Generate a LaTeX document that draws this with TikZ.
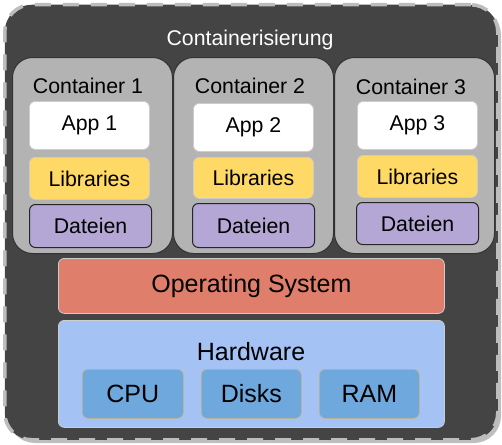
\documentclass[tikz,border=0pt]{standalone}
\usepackage{fontspec}
\setmainfont{Liberation Sans}
\definecolor{outerfill}{HTML}{444444}
\definecolor{outerdash}{HTML}{BDBDBD}
\definecolor{contfill}{HTML}{B3B3B3}
\definecolor{libfill}{HTML}{FFD966}
\definecolor{datfill}{HTML}{B4A7D6}
\definecolor{osfill}{HTML}{E07E6C}
\definecolor{hwfill}{HTML}{A4C2F4}
\definecolor{partfill}{HTML}{6FA8DC}
\definecolor{partline}{HTML}{C9B27A}
\definecolor{lightline}{HTML}{CCCCCC}
\tikzset{
  box/.style={rectangle, anchor=north west, inner sep=0pt, rounded corners=6pt, line width=0.8pt},
  contbox/.style={box, fill=contfill, draw=black!80, rounded corners=20pt, line width=1pt},
  appbox/.style={box, fill=white, draw=lightline},
  libbox/.style={box, fill=libfill, draw=lightline},
  datbox/.style={box, fill=datfill, draw=black!85, line width=1pt},
  osbox/.style={box, fill=osfill, draw=lightline},
  hwbox/.style={box, fill=hwfill, draw=lightline},
  partbox/.style={box, fill=partfill, draw=partline, line width=0.6pt},
  txt/.style={font=\fontsize{21.3}{24}\selectfont, text=black},
  bigtxt/.style={font=\fontsize{25}{28}\selectfont, text=black},
  title/.style={txt, inner sep=0pt}
}
\begin{document}
\begin{tikzpicture}[x=1pt, y=-1pt]
\useasboundingbox (0,0) rectangle (502,444);
% outer shadow and frame
\fill[black!25, rounded corners=27pt] (8,8) rectangle (501,443);
\node[box, fill=outerfill, draw=outerdash, line width=3.5pt, dash pattern=on 16pt off 12pt, rounded corners=27pt,
      minimum width=493pt, minimum height=435pt] (outer) at (3,3) {};
\node[title, text=white] (ctitle) at (250,40) {Containerisierung};

% containers
\node[contbox, minimum width=160pt, minimum height=196pt] (c1) at (12,57) {};
\node[contbox, minimum width=160pt, minimum height=196pt] (c2) at (173,57) {};
\node[contbox, minimum width=160pt, minimum height=196pt] (c3) at (334,57) {};
\node[title] (t1) at (88,86) {Container 1};
\node[title] (t2) at (250,86) {Container 2};
\node[title] (t3) at (411,87) {Container 3};

\node[appbox, txt, minimum width=120pt, minimum height=48pt] (a1) at (29,101) {App 1};
\node[appbox, txt, minimum width=120pt, minimum height=48pt] (a2) at (193,103) {App 2};
\node[appbox, txt, minimum width=120pt, minimum height=48pt] (a3) at (357,101) {App 3};

\node[libbox, txt, minimum width=120pt, minimum height=42pt] (l1) at (29,157) {Libraries};
\node[libbox, txt, minimum width=120pt, minimum height=41pt] (l2) at (193,157) {Libraries};
\node[libbox, txt, minimum width=120pt, minimum height=42pt] (l3) at (357,155) {Libraries};

\node[datbox, txt, minimum width=122pt, minimum height=43pt] (d1) at (29,204) {Dateien};
\node[datbox, txt, minimum width=122pt, minimum height=44pt] (d2) at (192,203) {Dateien};
\node[datbox, txt, minimum width=122pt, minimum height=42pt] (d3) at (356,202) {Dateien};

% operating system
\node[osbox, bigtxt, minimum width=386pt, minimum height=55pt] (os) at (58,258) {Operating System};

% hardware
\node[hwbox, minimum width=386pt, minimum height=107pt] (hw) at (58,320) {};
\node[bigtxt, inner sep=0pt] (hwt) at (251,352) {Hardware};
\node[partbox, bigtxt, minimum width=101pt, minimum height=49pt] (cpu) at (82,369) {CPU};
\node[partbox, bigtxt, minimum width=100pt, minimum height=49pt] (disk) at (201,369) {Disks};
\node[partbox, bigtxt, minimum width=100pt, minimum height=49pt] (ram) at (319,369) {RAM};
\end{tikzpicture}
\end{document}
